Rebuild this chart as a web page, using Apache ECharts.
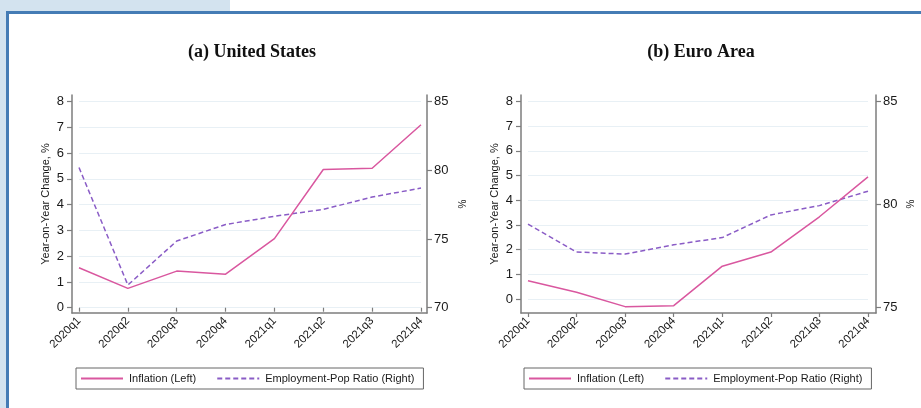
<!DOCTYPE html>
<html>
<head>
<meta charset="utf-8">
<script src="https://cdn.jsdelivr.net/npm/echarts@6/dist/echarts.min.js"></script>
<style>
html,body{margin:0;padding:0;width:921px;height:408px;overflow:hidden;background:#fff;}
#bgTop{position:absolute;left:0;top:0;width:230px;height:11px;background:#d3e3ef;}
#bgLeft{position:absolute;left:0;top:0;width:6px;height:408px;background:#d3e3ef;}
#bTop{position:absolute;left:6px;top:11px;width:915px;height:3px;background:#457cb5;}
#bLeft{position:absolute;left:6px;top:11px;width:3px;height:397px;background:#457cb5;}
#chart{position:absolute;left:0;top:0;width:921px;height:408px;}
</style>
</head>
<body>
<div id="bgTop"></div><div id="bgLeft"></div><div id="bTop"></div><div id="bLeft"></div>
<div id="chart"></div>
<script>
// ---- data ----
const quarters = ['2020q1','2020q2','2020q3','2020q4','2021q1','2021q2','2021q3','2021q4'];
const usInflation = [1.55, 0.75, 1.42, 1.30, 2.68, 5.36, 5.41, 7.10];
const usEmployment = [80.2, 71.65, 74.85, 76.05, 76.65, 77.15, 78.05, 78.70];
const euInflation = [0.74, 0.27, -0.31, -0.27, 1.33, 1.90, 3.33, 4.95];
const euEmployment = [79.05, 77.70, 77.60, 78.05, 78.40, 79.50, 79.95, 80.65];
const panelTitles = ['(a) United States', '(b) Euro Area'];
const seriesNames = ['Inflation (Left)', 'Employment-Pop Ratio (Right)'];
const leftAxisName = 'Year-on-Year Change, %';
const rightAxisName = '%';
const usLeftRange = [0, 8, 1];
const usRightRange = [70, 85, 5];
const euLeftRange = [0, 8, 1];
const euRightRange = [75, 85, 5];

// ---- styles ----
const FONT = "'Liberation Sans', Arial, sans-serif";
const AXIS_COLOR = '#7d7d7d';
const TEXT_COLOR = '#1a1a1a';
const PINK = '#d9579f';
const PURPLE = '#8a5cc6';
const SPLIT = '#e8f0f5';

const chart = echarts.init(document.getElementById('chart'), null, {renderer: 'canvas'});

const panels = [
  {frame:{left:72, top:95, width:355, height:218}, L:{left:79, top:101.5, width:342, height:206.2},
   R:{left:79, top:101.5, width:342, height:206.2}, lOff:7, rOff:6, labelOn:'L', labelOff:5.3,
   lr: usLeftRange, rr: usRightRange, inf: usInflation, emp: usEmployment, titleX: 252, legendLeft: 76},
  {frame:{left:521, top:95, width:355, height:218}, L:{left:528, top:101.5, width:340, height:197.5},
   R:{left:528, top:101.5, width:340, height:206.2}, lOff:7, rOff:8, labelOn:'R', labelOff:5.3,
   lr: euLeftRange, rr: euRightRange, inf: euInflation, emp: euEmployment, titleX: 701, legendLeft: 524}
];

const grid = [], xAxis = [], yAxis = [], series = [], legend = [], graphic = [];

panels.forEach((p, i) => {
  const gF = grid.length; grid.push(p.frame);
  const gL = grid.length; grid.push(p.L);
  const gR = grid.length; grid.push(p.R);
  const axLine = {show:true, lineStyle:{color:AXIS_COLOR, width:1.5}};
  xAxis.push({gridIndex:gF, type:'value', min:0, max:1, position:'bottom', axisLine:axLine,
    axisTick:{show:false}, axisLabel:{show:false}, splitLine:{show:false}});
  yAxis.push({gridIndex:gF, type:'value', min:0, max:1, position:'left', axisLine:axLine,
    axisTick:{show:false}, axisLabel:{show:false}, splitLine:{show:false},
    name:leftAxisName, nameLocation:'middle', nameRotate:90, nameGap:21,
    nameTextStyle:{fontFamily:FONT, fontSize:11, color:TEXT_COLOR}});
  yAxis.push({gridIndex:gF, type:'value', min:0, max:1, position:'right', axisLine:axLine,
    axisTick:{show:false}, axisLabel:{show:false}, splitLine:{show:false},
    name:rightAxisName, nameLocation:'middle', nameRotate:90, nameGap:(i===0?31:30),
    nameTextStyle:{fontFamily:FONT, fontSize:10, color:TEXT_COLOR}});
  ['L','R'].forEach(k => {
    const show = p.labelOn === k;
    xAxis.push({gridIndex: k==='L'?gL:gR, type:'category', data:quarters, boundaryGap:false,
      position:'bottom', offset: show ? p.labelOff : 0,
      axisLine:{show:false},
      axisTick:{show:show, length:4, lineStyle:{color:AXIS_COLOR, width:1.2}},
      axisLabel:{show:show, rotate:45, fontFamily:FONT, fontSize:11.5, color:TEXT_COLOR, margin:6},
      splitLine:{show:false}});
  });
  const xL = xAxis.length - 2, xR = xAxis.length - 1;
  const yL = yAxis.length;
  yAxis.push({gridIndex:gL, type:'value', min:p.lr[0], max:p.lr[1], interval:p.lr[2], position:'left',
    offset:p.lOff, axisLine:{show:false},
    axisTick:{show:true, length:5, lineStyle:{color:AXIS_COLOR, width:1.2}},
    axisLabel:{fontFamily:FONT, fontSize:13, color:TEXT_COLOR, margin:8},
    splitLine:{show:true, lineStyle:{color:SPLIT, width:1}}});
  const yR = yAxis.length;
  yAxis.push({gridIndex:gR, type:'value', min:p.rr[0], max:p.rr[1], interval:p.rr[2], position:'right',
    offset:p.rOff, axisLine:{show:false},
    axisTick:{show:true, length:5, lineStyle:{color:AXIS_COLOR, width:1.2}},
    axisLabel:{fontFamily:FONT, fontSize:13, color:TEXT_COLOR, margin:7},
    splitLine:{show:false}});
  series.push({name:seriesNames[0], type:'line', xAxisIndex:xL, yAxisIndex:yL, data:p.inf,
    symbol:'circle', showSymbol:false, clip:false, lineStyle:{color:PINK, width:1.5}, itemStyle:{color:PINK}, z:3});
  series.push({name:seriesNames[1], type:'line', xAxisIndex:xR, yAxisIndex:yR, data:p.emp,
    symbol:'circle', showSymbol:false, clip:false, lineStyle:{color:PURPLE, width:1.5, type:[5,3]}, itemStyle:{color:PURPLE}, z:2});
  legend.push({left:p.legendLeft, top:368, orient:'horizontal', data:seriesNames,
    itemWidth:42, itemHeight:10, itemGap:20, padding:[5,9,5,4], borderColor:'#666', borderWidth:1,
    itemStyle:{opacity:0, color:'transparent', borderColor:'transparent', borderWidth:0},
    textStyle:{fontFamily:FONT, fontSize:11, color:TEXT_COLOR, padding:[0,0,0,1]}, selectedMode:false});
  graphic.push({type:'text', x:p.titleX, y:52, style:{text:panelTitles[i], textAlign:'center',
    textVerticalAlign:'middle', font:"bold 18px 'Liberation Serif', 'Times New Roman', serif", fill:'#111'}});
});

chart.setOption({animation:false, grid, xAxis, yAxis, series, legend, graphic});
</script>
</body>
</html>
